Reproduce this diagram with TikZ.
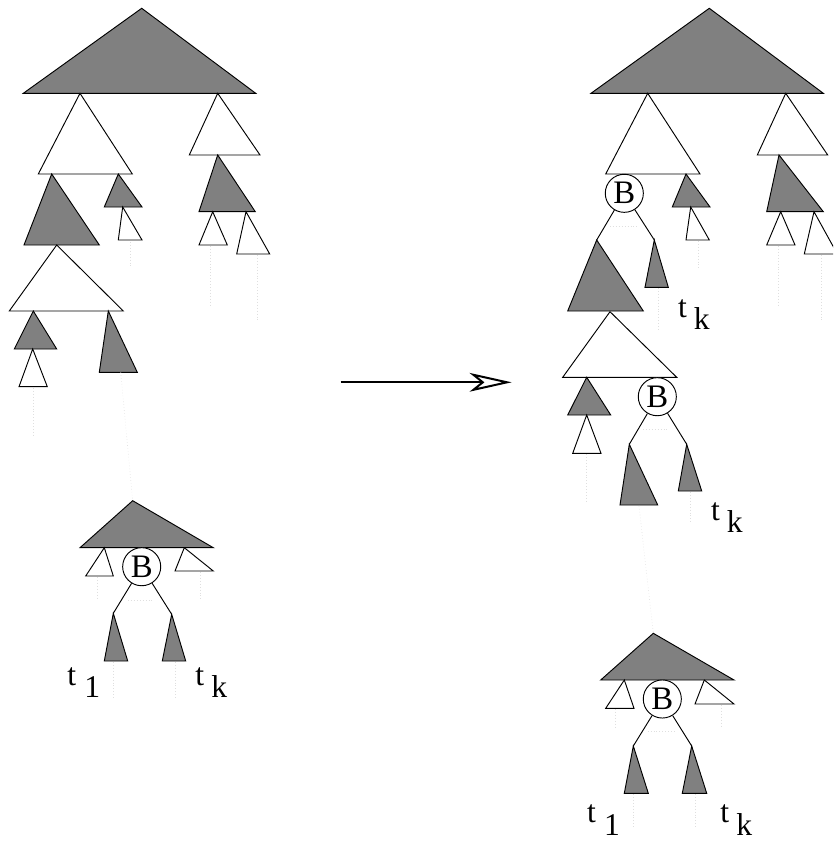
\documentclass[tikz,border=0pt]{standalone}
\usepackage{fontspec}
\setmainfont{Liberation Serif}
\usetikzlibrary{arrows.meta}

\begin{document}
\begin{tikzpicture}[>=Stealth, x=0.03cm, y=-0.03cm, line width=0.8pt,
  gtri/.style={draw, fill=gray},
  wtri/.style={draw, fill=white},
  bnode/.style={draw, circle, fill=white, inner sep=0pt, minimum size=32.5pt,
    font=\fontsize{28}{32}\selectfont},
  tlab/.style={anchor=base west, inner sep=0pt, font=\fontsize{27}{31}\selectfont},
  faint/.style={gray!25, dotted, line width=0.5pt}]
  \useasboundingbox (0,0) rectangle (833,846);
  \clip (0,0) rectangle (833,846);

  % Left: faint paths down the tree
  \draw[faint] (33,388) -- (33,435);
  \draw[faint] (130,242) -- (130,267);
  \draw[faint] (210,246) -- (210,307);
  \draw[faint] (257,255) -- (257,322);
  \draw[faint] (97,577) -- (97,600);
  \draw[faint] (200,572) -- (200,600);
  \draw[faint] (128,600) -- (153,600);
  \draw[faint] (113,662) -- (113,700);
  \draw[faint] (175,662) -- (175,700);
  % Left: upper tree
  \draw[gtri] (141.7,8.3) -- (23.3,93.3) -- (255.7,93.3) -- cycle;
  \draw[wtri] (80,93.3) -- (38.3,174) -- (132.3,174) -- cycle;
  \draw[wtri] (217.7,93.3) -- (189.3,155) -- (260,155) -- cycle;
  \draw[gtri] (51.7,174) -- (24,245) -- (99.3,245) -- cycle;
  \draw[gtri] (118.3,174) -- (104.3,207) -- (142,207) -- cycle;
  \draw[wtri] (122.7,207) -- (118.3,240) -- (142,240) -- cycle;
  \draw[gtri] (217.7,155) -- (199,211.7) -- (255.3,211.7) -- cycle;
  \draw[wtri] (212.7,211.7) -- (199,245) -- (227.3,245) -- cycle;
  \draw[wtri] (246,211.7) -- (236.7,254) -- (269.7,254) -- cycle;
  \draw[wtri] (56.7,245) -- (9.3,311) -- (123.3,311) -- cycle;
  \draw[gtri] (33.3,311) -- (14.3,349) -- (56.7,349) -- cycle;
  \draw[wtri] (32.7,349) -- (19,386.7) -- (47.3,386.7) -- cycle;
  \coordinate (lend) at (120.7,372.3);
  \draw[gtri] (108.3,311) -- (99.3,372.3) -- (137.3,372.3) -- cycle;
  % Left: lower tree
  \coordinate (ltop) at (132.7,500.7);
  \draw[faint] (lend) -- (ltop);
  \draw[gtri] (ltop) -- (80,547.7) -- (213.3,547.7) -- cycle;
  \draw[wtri] (104.3,547.7) -- (85.7,576) -- (113.3,576) -- cycle;
  \draw[wtri] (184.3,547.7) -- (175,571) -- (213.3,571) -- cycle;
  \coordinate (lt1) at (113.3,613.3);
  \coordinate (ltk) at (171.7,614.3);
  \draw[gtri] (lt1) -- (104.3,661) -- (127.7,661) -- cycle;
  \draw[gtri] (ltk) -- (162.3,661) -- (185.7,661) -- cycle;
  \node[bnode] (lB) at (141.7,566.7) {B};
  \draw (lB) -- (lt1);
  \draw (lB) -- (ltk);
  \node[tlab] (lab-lt1) at (67,685) {t\kern7pt\raisebox{-11pt}{1}};
  \node[tlab] (lab-ltk) at (195,685) {t\kern6pt\raisebox{-11pt}{k}};

  % Arrow
  \coordinate (arr-s) at (340.7,382.3);
  \coordinate (arr-e) at (511.7,382.3);
  \draw[-{Stealth[open, length=36pt, width=16pt, inset=10pt]}, line width=1.7pt]
    (arr-s) -- (arr-e);

  % Right: faint paths down the tree
  \draw[faint] (610,226.7) -- (636.7,226.7);
  \draw[faint] (698,241) -- (698,268);
  \draw[faint] (778,246) -- (778,307);
  \draw[faint] (821.7,255) -- (821.7,322);
  \draw[faint] (658,288) -- (658,330);
  \draw[faint] (643,429) -- (668,429);
  \draw[faint] (586.7,454) -- (586.7,501.7);
  \draw[faint] (690.7,492) -- (690.7,523);
  \draw[faint] (615,709) -- (615,727);
  \draw[faint] (721.7,705) -- (721.7,727);
  \draw[faint] (647.7,731.7) -- (676.7,731.7);
  \draw[faint] (633.3,794) -- (633.3,827);
  \draw[faint] (695,794) -- (695,827);
  % Right: upper tree
  \draw[gtri] (709.3,8.3) -- (591,93.3) -- (823.3,93.3) -- cycle;
  \draw[wtri] (647.7,93.3) -- (605.7,174) -- (700,174) -- cycle;
  \draw[wtri] (785.7,93.3) -- (757.3,155) -- (827.7,155) -- cycle;
  \draw[gtri] (686,174) -- (672.3,207) -- (710,207) -- cycle;
  \draw[wtri] (690.7,207) -- (686,240) -- (709.3,240) -- cycle;
  \draw[gtri] (779,155) -- (766.7,211.7) -- (823.3,211.7) -- cycle;
  \draw[wtri] (780.7,211.7) -- (766.7,245) -- (795,245) -- cycle;
  \draw[wtri] (814,211.7) -- (804.3,254) -- (837.3,254) -- cycle;
  \coordinate (ra1) at (596.7,240);
  \coordinate (rak) at (654.3,240);
  \draw[gtri] (ra1) -- (567.7,311) -- (643.3,311) -- cycle;
  \draw[gtri] (rak) -- (645,287.3) -- (668.3,287.3) -- cycle;
  \node[bnode] (rB1) at (624.3,193.3) {B};
  \draw (rB1) -- (ra1);
  \draw (rB1) -- (rak);
  \node[tlab] (lab-rak) at (677.7,317) {t\kern6pt\raisebox{-11pt}{k}};
  % Right: middle tree
  \draw[wtri] (610,311.7) -- (562.7,377.3) -- (676.7,377.3) -- cycle;
  \draw[gtri] (586.7,377.3) -- (567.7,415) -- (610.7,415) -- cycle;
  \draw[wtri] (586.7,415) -- (572.7,453.3) -- (601,453.3) -- cycle;
  \coordinate (rb1) at (629.3,444.3);
  \coordinate (rbk) at (686.7,444.3);
  \draw[gtri] (rb1) -- (620,505) -- (657.7,505) -- cycle;
  \draw[gtri] (rbk) -- (678.3,491) -- (701.7,491) -- cycle;
  \node[bnode] (rB2) at (657.3,396.7) {B};
  \draw (rB2) -- (rb1);
  \draw (rB2) -- (rbk);
  \node[tlab] (lab-rbk) at (710.7,520) {t\kern6pt\raisebox{-11pt}{k}};
  % Right: lower tree
  \coordinate (rend) at (639,506);
  \coordinate (rtop) at (653.3,633.3);
  \draw[faint] (rend) -- (rtop);
  \draw[gtri] (rtop) -- (600.7,680) -- (734,680) -- cycle;
  \draw[wtri] (624.3,680) -- (605.7,708.3) -- (634,708.3) -- cycle;
  \draw[wtri] (704.3,680) -- (695,704) -- (734,704) -- cycle;
  \coordinate (rt1) at (633.3,746);
  \coordinate (rtk) at (691.7,746);
  \draw[gtri] (rt1) -- (624.3,793.3) -- (648.3,793.3) -- cycle;
  \draw[gtri] (rtk) -- (682.3,793.3) -- (706.7,793.3) -- cycle;
  \node[bnode] (rB3) at (662.3,699) {B};
  \draw (rB3) -- (rt1);
  \draw (rB3) -- (rtk);
  \node[tlab] (lab-rt1) at (586.7,822.7) {t\kern7pt\raisebox{-11pt}{1}};
  \node[tlab] (lab-rtk) at (720,822.7) {t\kern6pt\raisebox{-11pt}{k}};
\end{tikzpicture}
\end{document}
